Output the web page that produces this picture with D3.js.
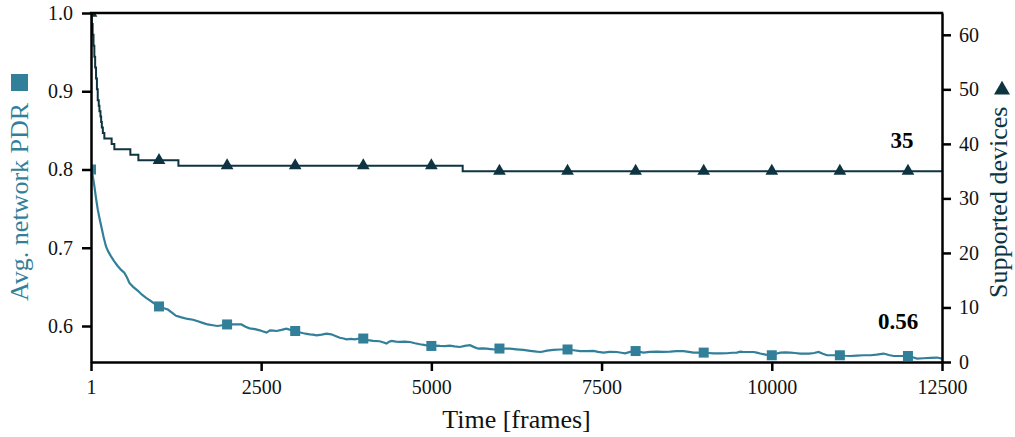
<!DOCTYPE html>
<html>
<head>
<meta charset="utf-8">
<script src="https://cdn.jsdelivr.net/npm/d3@7"></script>
<style>
  body { margin: 0; background: #fff; }
  svg text { font-family: "Liberation Serif", "Times New Roman", Times, serif; }
</style>
</head>
<body>
<div id="chart"></div>
<script>
  var width = 1015;
  var height = 437;
  var margin = {top: 13, right: 73, bottom: 75, left: 91};

  var pdrColor = "#327f9a";
  var devColor = "#0e3441";

  // avg. network PDR
  var pdrFrames = [1, 25, 50, 75, 100, 125, 150, 185, 220, 255, 295, 340, 390, 440, 490, 530, 565, 620, 690, 750,
    810, 860, 910, 960, 1000, 1060, 1130, 1190, 1250, 1330, 1420, 1500, 1570, 1640, 1715, 1790, 1860, 1930, 2000, 2100,
    2210, 2270, 2330, 2410, 2480, 2530, 2580, 2630, 2680, 2725, 2800, 2870, 2930, 3000, 3060, 3120, 3170, 3215, 3260, 3313,
    3390, 3460, 3530, 3600, 3656, 3710, 3754, 3820, 3876, 3940, 4000, 4070, 4145, 4240, 4300, 4342, 4380, 4416, 4480, 4540,
    4610, 4685, 4760, 4832, 4910, 5000, 5060, 5126, 5200, 5270, 5340, 5420, 5490, 5567, 5630, 5690, 5750, 5812, 5870, 5934,
    6000, 6080, 6155, 6250, 6350, 6450, 6547, 6610, 6700, 6791, 6890, 7000, 7090, 7184, 7280, 7380, 7450, 7527, 7620, 7723,
    7790, 7846, 7920, 8000, 8060, 8115, 8210, 8311, 8410, 8507, 8600, 8703, 8780, 8850, 8920, 9000, 9070, 9144, 9240, 9340,
    9420, 9487, 9540, 9584, 9660, 9731, 9780, 9830, 9910, 10000, 10060, 10124, 10200, 10271, 10340, 10418, 10550, 10620, 10687, 10750,
    10810, 10900, 11000, 11080, 11153, 11250, 11350, 11450, 11540, 11642, 11720, 11789, 11890, 12000, 12070, 12133, 12230, 12330, 12427, 12500];
  var pdrValues = [0.800, 0.793, 0.779, 0.763, 0.749, 0.738, 0.728, 0.714, 0.702, 0.695, 0.689, 0.683, 0.677, 0.672, 0.668, 0.662, 0.655, 0.650, 0.645, 0.640,
    0.636, 0.633, 0.630, 0.627, 0.625, 0.623, 0.621, 0.617, 0.613, 0.611, 0.609, 0.608, 0.606, 0.604, 0.602, 0.601, 0.600, 0.601, 0.602, 0.602,
    0.602, 0.599, 0.597, 0.596, 0.5945, 0.593, 0.5916, 0.5945, 0.594, 0.5936, 0.595, 0.5967, 0.595, 0.5936, 0.592, 0.5907, 0.590, 0.5894, 0.589, 0.5881,
    0.589, 0.5903, 0.5894, 0.587, 0.585, 0.584, 0.583, 0.5835, 0.583, 0.584, 0.584, 0.582, 0.581, 0.5805, 0.579, 0.5775, 0.580, 0.581, 0.580, 0.5796,
    0.580, 0.5796, 0.578, 0.5767, 0.5755, 0.5745, 0.575, 0.5745, 0.5742, 0.575, 0.574, 0.5732, 0.5745, 0.5754, 0.573, 0.571, 0.5715, 0.571, 0.5705, 0.570,
    0.5712, 0.5712, 0.571, 0.5702, 0.5694, 0.5683, 0.5673, 0.5668, 0.5685, 0.5694, 0.570, 0.570, 0.569, 0.568, 0.568, 0.5682, 0.567, 0.566, 0.567, 0.5668,
    0.5658, 0.565, 0.567, 0.568, 0.567, 0.566, 0.567, 0.5673, 0.567, 0.5673, 0.5678, 0.568, 0.567, 0.566, 0.566, 0.566, 0.5655, 0.565, 0.565, 0.5652,
    0.5658, 0.566, 0.5673, 0.5668, 0.5668, 0.5668, 0.566, 0.5648, 0.5635, 0.5626, 0.5645, 0.566, 0.5662, 0.566, 0.5655, 0.5648, 0.5648, 0.5655, 0.5668, 0.5645,
    0.5626, 0.5626, 0.5626, 0.562, 0.5617, 0.5622, 0.5626, 0.5626, 0.5635, 0.5648, 0.563, 0.5617, 0.5617, 0.5617, 0.560, 0.5584, 0.5588, 0.5592, 0.5597, 0.5584];

  // supported devices (step function)
  var devFrames = [1, 12, 25, 38, 50, 62, 75, 88, 100, 115, 125, 140, 150, 160, 175, 197, 304, 344, 579, 697, 1285, 5460, 12500];
  var devValues = [64, 62, 60, 58, 56, 54, 52, 50, 48, 47, 46, 45, 44, 43, 42, 41, 40, 39, 38, 37, 36, 35, 35];

  var markerFrames = [1, 1000, 2000, 3000, 4000, 5000, 6000, 7000, 8000, 9000, 10000, 11000, 12000];
  var xTicks = [1, 2500, 5000, 7500, 10000, 12500];
  var leftTicks = [0.6, 0.7, 0.8, 0.9, 1.0];
  var rightTicks = [0, 10, 20, 30, 40, 50, 60];

  var pdr = pdrFrames.map(function(f, i) { return {f: f, v: pdrValues[i]}; });
  var dev = devFrames.map(function(f, i) { return {f: f, v: devValues[i]}; });

  var w = width - margin.left - margin.right;
  var h = height - margin.top - margin.bottom;

  var x = d3.scaleLinear().domain([1, 12500]).range([0, w]);
  var yL = d3.scaleLinear().domain([0.554, 1.0]).range([h, 0]);
  var yR = d3.scaleLinear().domain([0, 64]).range([h, 0]);

  var svg = d3.select("#chart").append("svg")
      .attr("width", width)
      .attr("height", height);
  var g = svg.append("g").attr("transform", "translate(" + margin.left + "," + margin.top + ")");

  g.append("clipPath").attr("id", "clip")
    .append("rect").attr("width", w).attr("height", h);

  var plot = g.append("g").attr("clip-path", "url(#clip)");

  plot.append("path")
    .datum(dev)
    .attr("fill", "none")
    .attr("stroke", devColor)
    .attr("stroke-width", 2)
    .attr("d", d3.line().curve(d3.curveStepAfter)
      .x(function(d) { return x(d.f); })
      .y(function(d) { return yR(d.v); }));

  plot.append("path")
    .datum(pdr)
    .attr("fill", "none")
    .attr("stroke", pdrColor)
    .attr("stroke-width", 2.2)
    .attr("d", d3.line()
      .x(function(d) { return x(d.f); })
      .y(function(d) { return yL(d.v); }));

  function devAt(f) {
    var i = d3.bisector(function(d) { return d.f; }).right(dev, f) - 1;
    return dev[Math.max(i, 0)].v;
  }
  function pdrAt(f) {
    var i = pdrFrames.indexOf(f);
    return pdrValues[i];
  }

  plot.selectAll(".tri")
    .data(markerFrames)
    .enter().append("path")
    .attr("class", "tri")
    .attr("fill", devColor)
    .attr("transform", function(f) { return "translate(" + x(f) + "," + yR(devAt(f)) + ")"; })
    .attr("d", d3.symbol().type(d3.symbolTriangle).size(70));

  plot.selectAll(".sq")
    .data(markerFrames)
    .enter().append("rect")
    .attr("class", "sq")
    .attr("fill", pdrColor)
    .attr("x", function(f) { return x(f) - 5; })
    .attr("y", function(f) { return yL(pdrAt(f)) - 5; })
    .attr("width", 10)
    .attr("height", 10);

  // axes
  function styleAxis(sel) {
    sel.attr("font-family", null);
    sel.selectAll("path").attr("stroke", "#000").attr("stroke-width", 2.5);
    sel.selectAll("line").attr("stroke", "#000").attr("stroke-width", 2.5);
    sel.selectAll("text").attr("font-size", 20).attr("fill", "#111");
  }

  var ax = g.append("g").attr("transform", "translate(0," + h + ")")
    .call(d3.axisBottom(x).tickValues(xTicks).tickSize(9).tickSizeOuter(0).tickPadding(9).tickFormat(d3.format("d")));
  styleAxis(ax);

  var al = g.append("g")
    .call(d3.axisLeft(yL).tickValues(leftTicks).tickSize(9).tickSizeOuter(0).tickPadding(9).tickFormat(d3.format(".1f")));
  styleAxis(al);

  var ar = g.append("g").attr("transform", "translate(" + w + ",0)")
    .call(d3.axisRight(yR).tickValues(rightTicks).tickSize(9).tickSizeOuter(0).tickPadding(8).tickFormat(d3.format("d")));
  styleAxis(ar);

  g.append("line").attr("x1", -1.25).attr("x2", w + 1.25).attr("y1", 0).attr("y2", 0)
    .attr("stroke", "#000").attr("stroke-width", 2.5);

  // titles
  svg.append("text")
    .attr("transform", "translate(" + (width / 2 + 9) + ",428)")
    .attr("text-anchor", "middle")
    .attr("font-size", 26)
    .attr("fill", "#111")
    .text("Time [frames]");

  svg.append("text")
    .attr("transform", "translate(28,301) rotate(-90)")
    .attr("text-anchor", "start")
    .attr("font-size", 26)
    .attr("fill", pdrColor)
    .text("Avg. network PDR");
  // legend square next to the left title
  svg.append("rect")
    .attr("x", 11).attr("y", 74).attr("width", 17).attr("height", 17)
    .attr("fill", pdrColor);

  svg.append("text")
    .attr("transform", "translate(1007,298) rotate(-90)")
    .attr("text-anchor", "start")
    .attr("font-size", 26)
    .attr("fill", devColor)
    .text("Supported devices");
  // legend triangle next to the right title
  svg.append("path")
    .attr("transform", "translate(1002,90)")
    .attr("d", d3.symbol().type(d3.symbolTriangle).size(110))
    .attr("fill", devColor);

  // final value annotations
  g.append("text")
    .attr("x", x(12080)).attr("y", yR(39.3))
    .attr("text-anchor", "end")
    .attr("font-size", 23).attr("font-weight", "bold")
    .attr("fill", "#000")
    .text(devValues[devValues.length - 1]);

  g.append("text")
    .attr("x", x(12150)).attr("y", yL(0.5965))
    .attr("text-anchor", "end")
    .attr("font-size", 23).attr("font-weight", "bold")
    .attr("fill", "#000")
    .text(d3.format(".2f")(pdrValues[pdrValues.length - 1]));
</script>
</body>
</html>
